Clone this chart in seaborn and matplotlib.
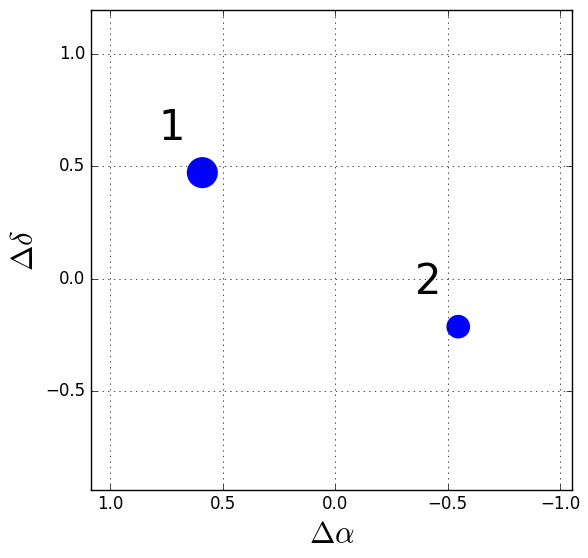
import pandas as pd
import matplotlib.pyplot as plt
import seaborn as sns

# offsets of the two sources (arcsec)
labels = ["1", "2"]
d_alpha = [0.59, -0.547]
d_delta = [0.472, -0.214]
sizes = [500, 290]

df = pd.DataFrame({"label": labels, "dalpha": d_alpha, "ddelta": d_delta, "size": sizes})

plt.style.use("classic")
plt.rcParams["mathtext.fontset"] = "cm"

fig = plt.figure(figsize=(5.88, 5.58), dpi=100, facecolor="white")
ax = fig.add_axes([0.155, 0.122, 0.818, 0.860])

sns.scatterplot(
    data=df, x="dalpha", y="ddelta", size="size", sizes=(min(sizes), max(sizes)),
    color="blue", edgecolor="none", legend=False, ax=ax,
)

for _, row in df.iterrows():
    ax.text(row["dalpha"] + 0.135, row["ddelta"] + 0.2, row["label"],
            fontsize=30, ha="center", va="center")

ax.set_xlim(1.084, -1.053)
ax.set_ylim(-0.941, 1.196)
ax.set_xticks([1.0, 0.5, 0.0, -0.5, -1.0])
ax.set_yticks([-0.5, 0.0, 0.5, 1.0])
ax.grid(True, color="black", linestyle=":", linewidth=0.5)
ax.tick_params(labelsize=12)
ax.set_xlabel(r"$\Delta\alpha$", fontsize=22)
ax.set_ylabel(r"$\Delta\delta$", fontsize=22)

fig.savefig("out.png", dpi=100, facecolor="white")
